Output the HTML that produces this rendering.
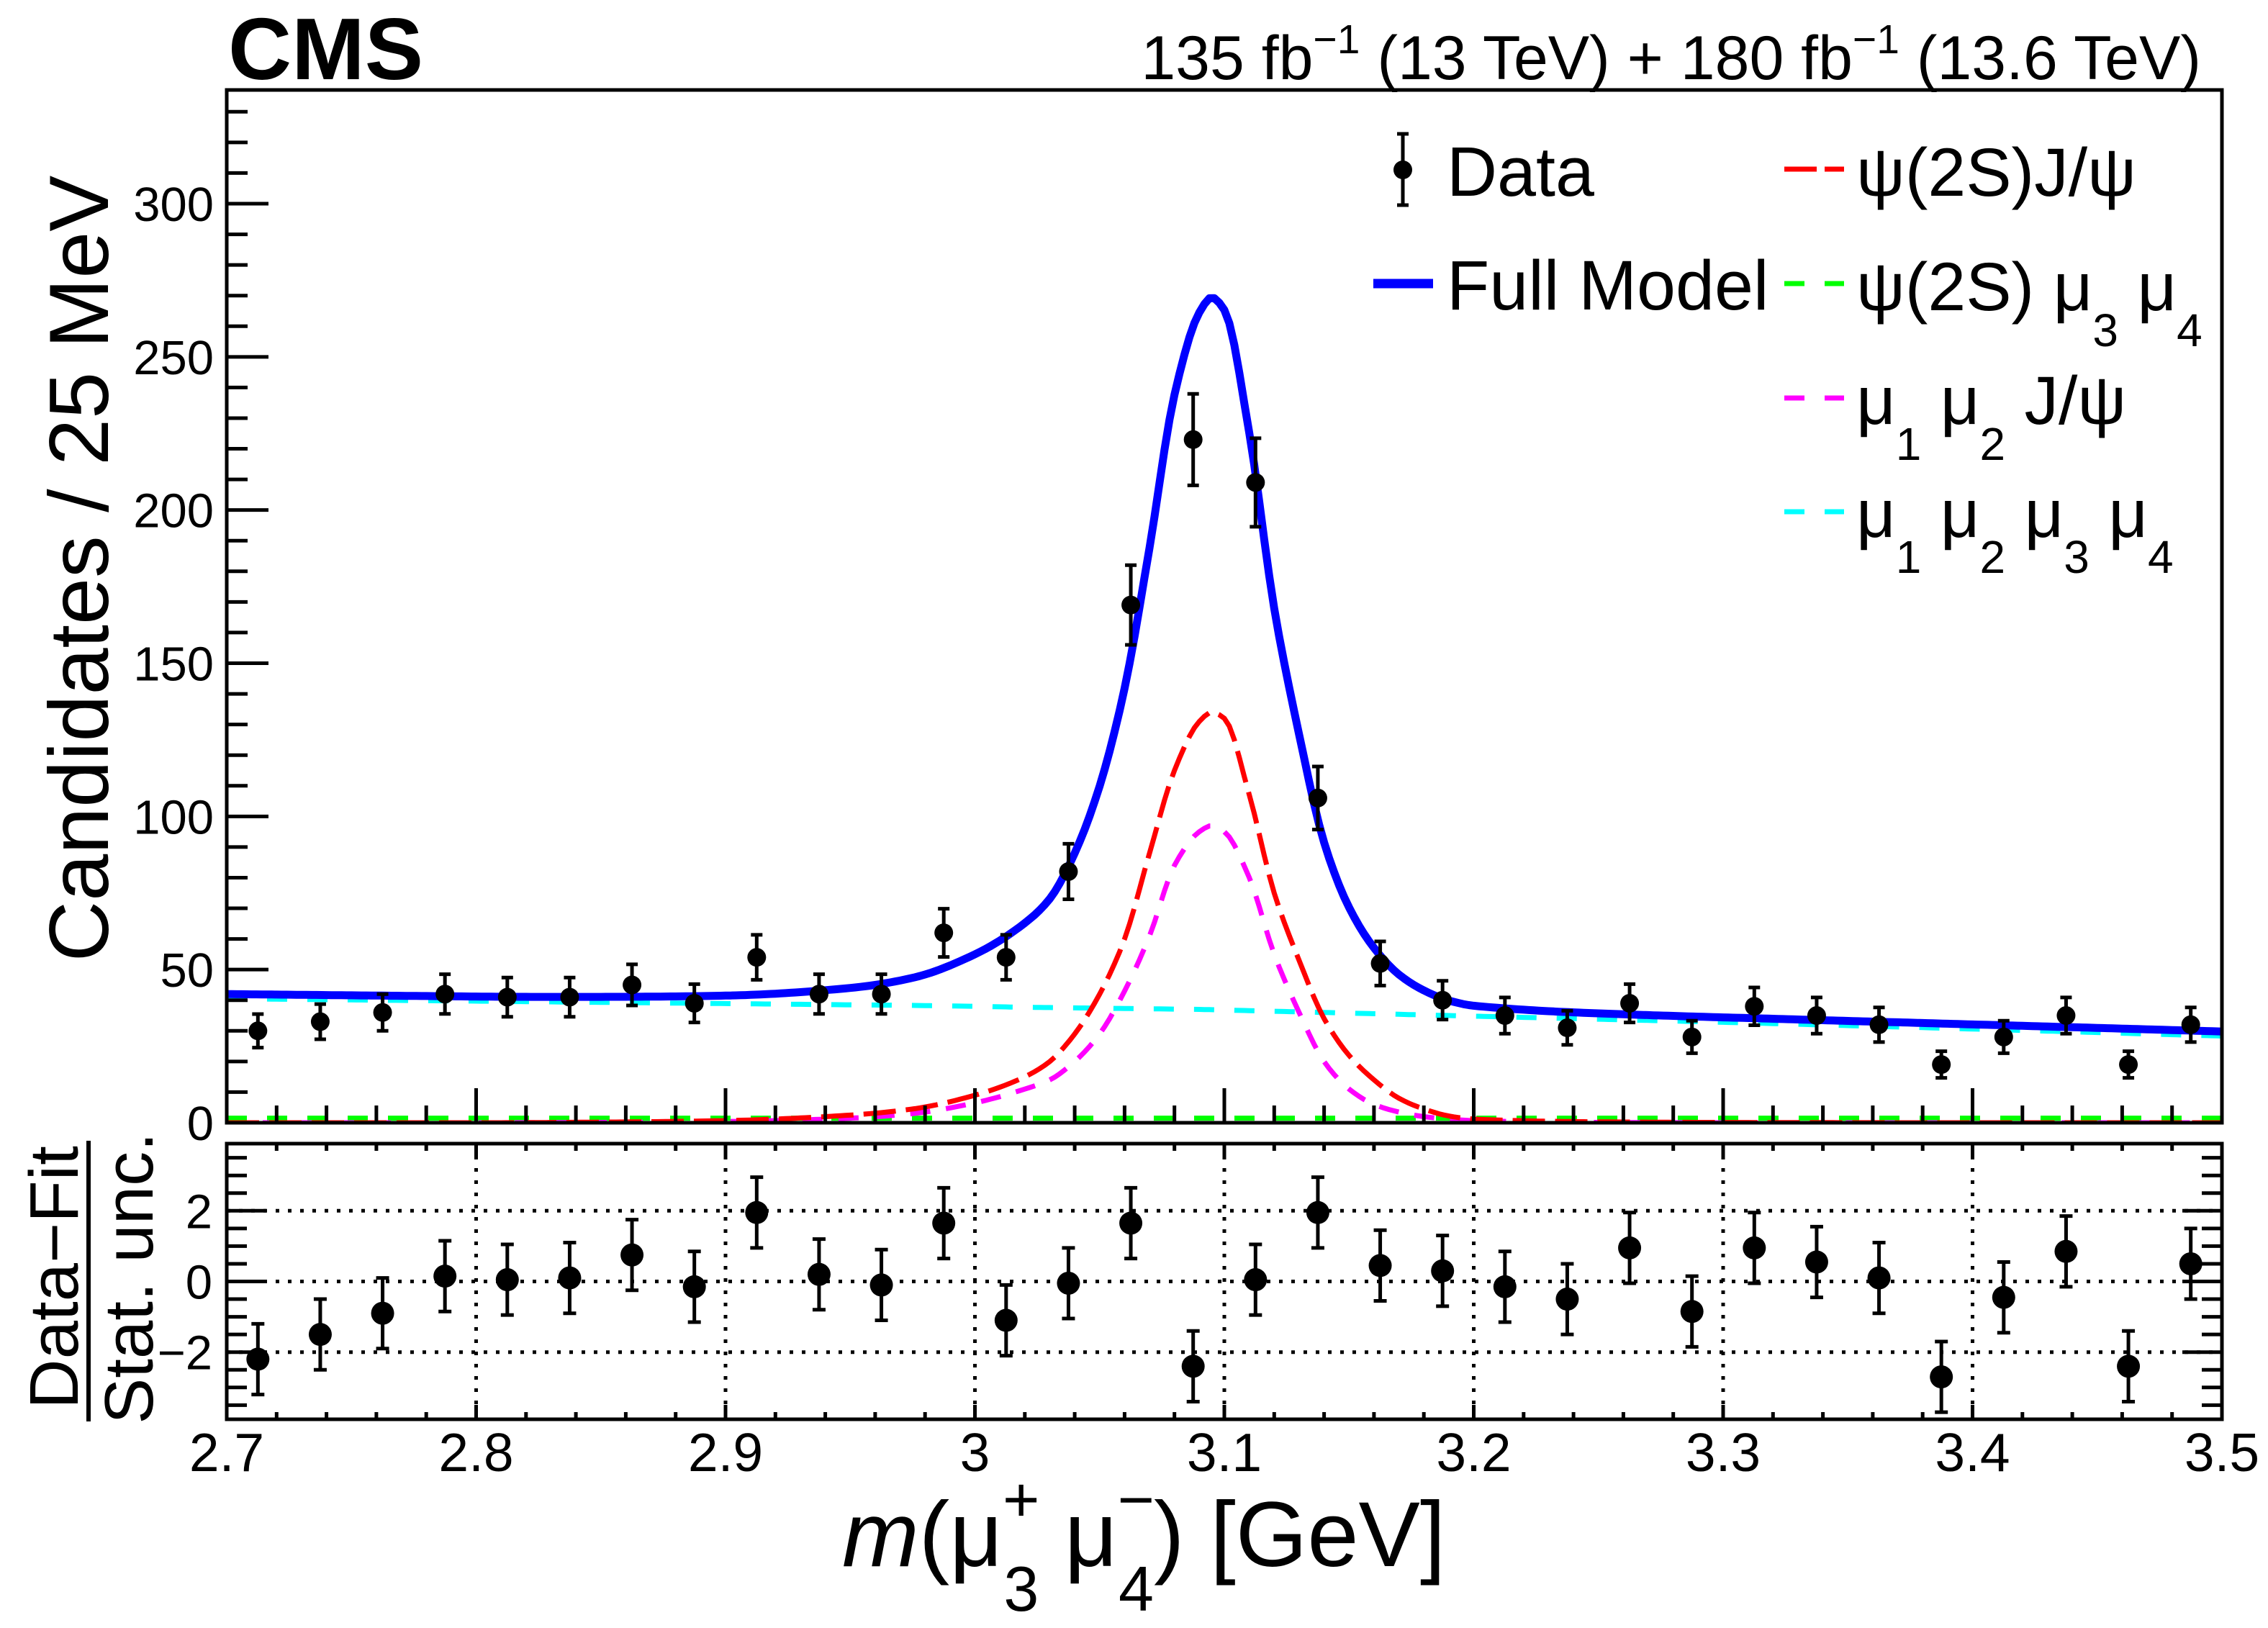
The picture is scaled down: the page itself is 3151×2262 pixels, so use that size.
<!DOCTYPE html>
<html><head><meta charset="utf-8">
<style>
html,body{margin:0;padding:0;background:#fff;}
svg{display:block;}
text{font-family:"Liberation Sans",Arial,sans-serif;fill:#000;}
</style></head>
<body>
<svg id="chart" xmlns="http://www.w3.org/2000/svg" width="3151" height="2262" viewBox="0 0 3151 2262">
<rect x="0" y="0" width="3151" height="2262" fill="#fff"/>
<g id="upper"></g>
<g id="lower"></g>
<g id="labels">
<text x="317" y="110" font-size="122" font-weight="bold">CMS</text>
<text x="3058" y="110" font-size="86" text-anchor="end">135 fb<tspan font-size="57" dy="-36">−1</tspan><tspan dy="36"> (13 TeV) + 180 fb</tspan><tspan font-size="57" dy="-36">−1</tspan><tspan dy="36"> (13.6 TeV)</tspan></text>
<text transform="translate(150,790) rotate(-90)" font-size="117" text-anchor="middle">Candidates / 25 MeV</text>
<text transform="translate(108,1775) rotate(-90)" font-size="96" text-anchor="middle">Data−Fit</text>
<line x1="123" y1="1585" x2="123" y2="1975" stroke="#000" stroke-width="6"/>
<text transform="translate(212,1776) rotate(-90)" font-size="96" text-anchor="middle">Stat. unc.</text>
<text x="1170" y="2176" font-size="128"><tspan font-style="italic">m</tspan>(μ<tspan font-size="88" dy="-62">+</tspan><tspan font-size="88" dx="-50" dy="124">3</tspan><tspan dy="-62"> μ</tspan><tspan font-size="88" dy="-62">−</tspan><tspan font-size="88" dx="-50" dy="124">4</tspan><tspan dy="-62">) [GeV]</tspan></text>
</g>
<g id="legend">
<g>
<line x1="1949" y1="186" x2="1949" y2="285" stroke="#000" stroke-width="5"/>
<line x1="1941" y1="186" x2="1957" y2="186" stroke="#000" stroke-width="5"/>
<line x1="1941" y1="285" x2="1957" y2="285" stroke="#000" stroke-width="5"/>
<circle cx="1949" cy="236" r="13" fill="#000"/>
<text x="2010" y="272" font-size="97">Data</text>
</g>
<g>
<line x1="1908" y1="394" x2="1991" y2="394" stroke="#0000ff" stroke-width="13"/>
<text x="2010" y="430" font-size="97">Full Model</text>
</g>
<g>
<line x1="2479" y1="235" x2="2562" y2="235" stroke="#ff0000" stroke-width="7" stroke-dasharray="45 11"/>
<text x="2579" y="272" font-size="95">ψ(2S)J/ψ</text>
</g>
<g>
<line x1="2479" y1="394" x2="2562" y2="394" stroke="#00ff00" stroke-width="7" stroke-dasharray="28 28"/>
<text x="2579" y="431" font-size="95">ψ(2S) μ<tspan font-size="64" dy="50">3</tspan><tspan dy="-50"> μ</tspan><tspan font-size="64" dy="50">4</tspan></text>
</g>
<g>
<line x1="2479" y1="553" x2="2562" y2="553" stroke="#ff00ff" stroke-width="7" stroke-dasharray="28 28"/>
<text x="2579" y="589" font-size="95">μ<tspan font-size="64" dy="50">1</tspan><tspan dy="-50"> μ</tspan><tspan font-size="64" dy="50">2</tspan><tspan dy="-50"> J/ψ</tspan></text>
</g>
<g>
<line x1="2479" y1="711" x2="2562" y2="711" stroke="#00ffff" stroke-width="7" stroke-dasharray="28 28"/>
<text x="2579" y="746" font-size="95">μ<tspan font-size="64" dy="50">1</tspan><tspan dy="-50"> μ</tspan><tspan font-size="64" dy="50">2</tspan><tspan dy="-50"> μ</tspan><tspan font-size="64" dy="50">3</tspan><tspan dy="-50"> μ</tspan><tspan font-size="64" dy="50">4</tspan></text>
</g>
</g>
</svg>
<script>
// ---- data ----
const binCenters = [2.7125,2.7375,2.7625,2.7875,2.8125,2.8375,2.8625,2.8875,2.9125,2.9375,2.9625,2.9875,3.0125,3.0375,3.0625,3.0875,3.1125,3.1375,3.1625,3.1875,3.2125,3.2375,3.2625,3.2875,3.3125,3.3375,3.3625,3.3875,3.4125,3.4375,3.4625,3.4875];
const counts = [30,33,36,42,41,41,45,39,54,42,42,62,54,82,169,223,209,106,52,40,35,31,39,28,38,35,32,19,28,35,19,32];
const pulls = [-2.2,-1.5,-0.9,0.15,0.05,0.1,0.75,-0.15,1.95,0.2,-0.1,1.65,-1.1,-0.05,1.65,-2.4,0.05,1.95,0.45,0.3,-0.15,-0.5,0.95,-0.85,0.95,0.55,0.1,-2.7,-0.45,0.85,-2.4,0.5];
const curveX = [2.70,2.75,2.80,2.85,2.90,2.95,2.975,3.00,3.02,3.03,3.04,3.05,3.06,3.07,3.08,3.09,3.095,3.10,3.11,3.12,3.13,3.14,3.15,3.16,3.17,3.18,3.19,3.20,3.25,3.30,3.40,3.50];
const redY = [0,0,0,0.2,0.7,2.5,4.5,9,15,20,29,42,60,88,115,131,134,132,107,75,53,34,22,14,8,4.5,2.2,1.2,0.3,0.1,0,0];
const magY = [0,0,0,0.1,0.4,1.5,3,6.5,11,14,20,29,43,61,84,95,97,95,80,55,36,20,11,6,3.5,2,1.2,0.7,0.1,0,0,0];
const cyanY = [40.5,40.1,39.7,39.3,38.9,38.5,38.3,38.0,37.7,37.6,37.5,37.4,37.3,37.2,37.1,37.0,36.9,36.8,36.6,36.4,36.2,36.0,35.8,35.6,35.4,35.2,35.0,34.8,33.8,32.8,30.6,28.3];
const greenY = [1.5,1.5,1.5,1.5,1.5,1.5,1.5,1.5,1.5,1.5,1.5,1.5,1.5,1.5,1.5,1.5,1.5,1.5,1.5,1.5,1.5,1.5,1.5,1.5,1.5,1.5,1.5,1.5,1.5,1.5,1.5,1.5];
const yTickLabels = ["0","50","100","150","200","250","300"];
const yTickValues = [0,50,100,150,200,250,300];
const xTickLabels = ["2.7","2.8","2.9","3","3.1","3.2","3.3","3.4","3.5"];
const xTickValues = [2.7,2.8,2.9,3.0,3.1,3.2,3.3,3.4,3.5];
const rTickLabels = ["−2","0","2"];
const rTickValues = [-2,0,2];

// ---- geometry ----
const L=315, R=3087, UT=125, UB=1560, LT=1589, LB=1972;
const XMIN=2.7, XMAX=3.5, YMIN=0, YMAX=(UB-UT)/((UB-283)/300), RMIN=-3.9, RMAX=3.9;
const sx = v => L + (v-XMIN)/(XMAX-XMIN)*(R-L);
const sy = v => UB - (v-YMIN)/(YMAX-YMIN)*(UB-UT);
const sr = v => LB - (v-RMIN)/(RMAX-RMIN)*(LB-LT);
const NS='http://www.w3.org/2000/svg';
function mk(tag, attrs, parent){const e=document.createElementNS(NS,tag);for(const k in attrs)e.setAttribute(k,attrs[k]);parent.appendChild(e);return e;}
const up=document.getElementById('upper'), lo=document.getElementById('lower');

const defs=mk('defs',{},document.getElementById('chart'));
const cp=mk('clipPath',{id:'upclip'},defs);
mk('rect',{x:L,y:UT,width:R-L,height:UB-UT},cp);

// monotone cubic interpolation (Fritsch-Carlson)
function monotone(xs, ys){
  const n=xs.length, d=[], m=new Array(n);
  for(let i=0;i<n-1;i++) d.push((ys[i+1]-ys[i])/(xs[i+1]-xs[i]));
  m[0]=d[0]; m[n-1]=d[n-2];
  for(let i=1;i<n-1;i++){
    if(d[i-1]*d[i]<=0) m[i]=0;
    else { const w1=2*(xs[i+1]-xs[i])+(xs[i]-xs[i-1]), w2=(xs[i+1]-xs[i])+2*(xs[i]-xs[i-1]);
      m[i]=(w1+w2)/(w1/d[i-1]+w2/d[i]); }
  }
  return function(x){
    let i=0; while(i<n-2 && x>xs[i+1]) i++;
    const h=xs[i+1]-xs[i], t=(x-xs[i])/h, t2=t*t, t3=t2*t;
    return (2*t3-3*t2+1)*ys[i]+(t3-2*t2+t)*h*m[i]+(-2*t3+3*t2)*ys[i+1]+(t3-t2)*h*m[i+1];
  };
}
const fR=monotone(curveX,redY), fM=monotone(curveX,magY), fC=monotone(curveX,cyanY), fG=monotone(curveX,greenY);
const fB=x=>fR(x)+fM(x)+fC(x)+fG(x);
function fnPath(f){
  let d='';
  for(let k=0;k<=400;k++){const x=XMIN+k*(XMAX-XMIN)/400;d+=(k?'L':'M')+sx(x).toFixed(1)+','+sy(f(x)).toFixed(1);}
  return d;
}
const gC=mk('g',{'clip-path':'url(#upclip)'},up);


const cyanP=mk('path',{d:fnPath(fC),fill:'none',stroke:'#00ffff','stroke-width':7,'stroke-dasharray':'28 28'},gC);


const greenP=mk('path',{d:fnPath(fG),fill:'none',stroke:'#00ff00','stroke-width':7,'stroke-dasharray':'28 28'},gC);


const magP=mk('path',{d:fnPath(fM),fill:'none',stroke:'#ff00ff','stroke-width':7,'stroke-dasharray':'28 22'},gC);


const redP=mk('path',{d:fnPath(fR),fill:'none',stroke:'#ff0000','stroke-width':7,'stroke-dasharray':'45 14'},gC);


const blueP=mk('path',{d:fnPath(fB),fill:'none',stroke:'#0000ff','stroke-width':11,'stroke-linejoin':'round'},gC);



binCenters.forEach((x,i)=>{
  const g=mk('g',{},up);
  
  
  const e=Math.sqrt(counts[i]);
  const cx=sx(x), y1=sy(counts[i]+e), y2=sy(counts[i]-e);
  mk('line',{x1:cx,y1:y1,x2:cx,y2:y2,stroke:'#000','stroke-width':5},g);
  mk('line',{x1:cx-8,y1:y1,x2:cx+8,y2:y1,stroke:'#000','stroke-width':5},g);
  mk('line',{x1:cx-8,y1:y2,x2:cx+8,y2:y2,stroke:'#000','stroke-width':5},g);
  mk('circle',{cx:cx,cy:sy(counts[i]),r:13,fill:'#000'},g);
});

function frame(parent,t,b,name){
  const r=mk('rect',{x:L,y:t,width:R-L,height:b-t,fill:'none',stroke:'#000','stroke-width':5},parent);
  
  
}
frame(up,UT,UB,'upper-frame');
const tk=mk('g',{stroke:'#000','stroke-width':5},up);


for(let v=0;v<=YMAX;v+=10){const y=sy(v);const len=(v%50===0)?58:29;
  mk('line',{x1:L,y1:y,x2:L+len,y2:y},tk);}
for(let k=0;k<=40;k++){const x=sx(XMIN+k*0.02);const len=(k%5===0)?48:24;
  mk('line',{x1:x,y1:UB,x2:x,y2:UB-len},tk);}
yTickValues.forEach((v,i)=>{
  const t=mk('text',{x:297,y:sy(v)+24,'font-size':67,'text-anchor':'end'},up);
  t.textContent=yTickLabels[i];
  
  
});

const grid=mk('g',{stroke:'#000','stroke-width':5,'stroke-dasharray':'5 12'},lo);


rTickValues.forEach(v=>mk('line',{x1:L,y1:sr(v),x2:R,y2:sr(v)},grid));
xTickValues.slice(1,-1).forEach(v=>mk('line',{x1:sx(v),y1:LT,x2:sx(v),y2:LB},grid));
binCenters.forEach((x,i)=>{
  const g=mk('g',{},lo);
  
  
  const cx=sx(x), y1=sr(pulls[i]+1), y2=sr(pulls[i]-1);
  mk('line',{x1:cx,y1:y1,x2:cx,y2:y2,stroke:'#000','stroke-width':5},g);
  mk('line',{x1:cx-9,y1:y1,x2:cx+9,y2:y1,stroke:'#000','stroke-width':5},g);
  mk('line',{x1:cx-9,y1:y2,x2:cx+9,y2:y2,stroke:'#000','stroke-width':5},g);
  mk('circle',{cx:cx,cy:sr(pulls[i]),r:16,fill:'#000'},g);
});
frame(lo,LT,LB,'ratio-frame');
const tk2=mk('g',{stroke:'#000','stroke-width':5},lo);


for(let k=-7;k<=7;k++){const y=sr(k*0.5);const len=(k%4===0)?55:28;
  mk('line',{x1:L,y1:y,x2:L+len,y2:y},tk2);mk('line',{x1:R,y1:y,x2:R-len,y2:y},tk2);}
for(let k=0;k<=40;k++){const x=sx(XMIN+k*0.02);const len=(k%5===0)?20:10;
  mk('line',{x1:x,y1:LB,x2:x,y2:LB-len},tk2);mk('line',{x1:x,y1:LT,x2:x,y2:LT+len},tk2);}
rTickValues.forEach((v,i)=>{
  const t=mk('text',{x:295,y:sr(v)+24,'font-size':67,'text-anchor':'end'},lo);
  t.textContent=rTickLabels[i];
  
  
});
xTickValues.forEach((v,i)=>{
  const t=mk('text',{x:sx(v),y:2044,'font-size':75,'text-anchor':'middle'},lo);
  t.textContent=xTickLabels[i];
  
  
});
</script>
</body></html>
